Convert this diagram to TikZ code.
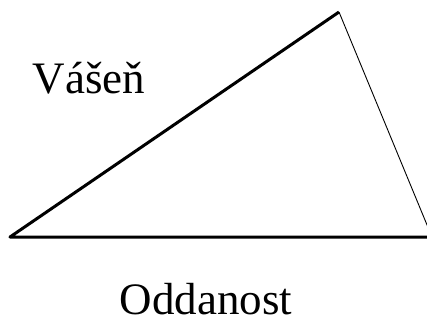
\documentclass[tikz,border=0pt]{standalone}
\usepackage{fontspec}
\setmainfont{Liberation Serif}
\begin{document}
\begin{tikzpicture}[x=1pt,y=-1pt,
  lbl/.style={inner sep=0pt, anchor=base, text depth=0pt}]
\useasboundingbox (0,0) rectangle (427,324);
\begin{scope}
\clip (0,0) rectangle (427,324);
\coordinate (L) at (10,237);
\coordinate (T) at (339,12);
\coordinate (R) at (432,237);
\draw[line width=3pt, line join=round] (R) -- (L) -- (T);
\draw[line width=0.9pt] (T) -- (R);
\end{scope}
\node[lbl, font=\fontsize{45}{50}\selectfont] (v) at (89,93) {Vášeň};
\node[lbl, font=\fontsize{45}{50}\selectfont] (o) at (206,314) {Oddanost};
\end{tikzpicture}
\end{document}
